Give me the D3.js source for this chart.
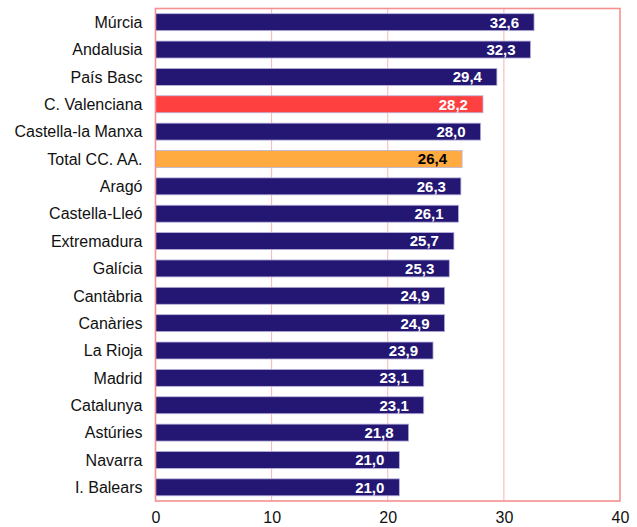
<!DOCTYPE html>
<html>
<head>
<meta charset="utf-8">
<script src="https://cdn.jsdelivr.net/npm/d3@7"></script>
<style>
  body { margin: 0; background: #fff; }
  text { font-family: Arial, "Liberation Sans", sans-serif; }
</style>
</head>
<body>
<div id="chart"></div>
<script>
const regions = ["Múrcia", "Andalusia", "País Basc", "C. Valenciana", "Castella-la Manxa",
    "Total CC. AA.", "Aragó", "Castella-Lleó", "Extremadura", "Galícia", "Cantàbria",
    "Canàries", "La Rioja", "Madrid", "Catalunya", "Astúries", "Navarra", "I. Balears"];
const values = [32.6, 32.3, 29.4, 28.2, 28.0, 26.4, 26.3, 26.1, 25.7, 25.3, 24.9,
    24.9, 23.9, 23.1, 23.1, 21.8, 21.0, 21.0];
const xTicks = [0, 10, 20, 30, 40];

const highlight = { "C. Valenciana": "#ff4040", "Total CC. AA.": "#ffab40" };

const margin = { top: 8.5, right: 17, bottom: 26, left: 155.5 };
const width = 637 - margin.left - margin.right;
const height = 527 - margin.top - margin.bottom;

const svg = d3.select("#chart")
    .append("svg")
    .attr("width", 637)
    .attr("height", 527)
    .append("g")
    .attr("transform", "translate(" + margin.left + "," + margin.top + ")");

const x = d3.scaleLinear().domain([0, 40]).range([0, width]);
const y = d3.scaleBand().domain(regions).range([0, height]).paddingInner(0.38).paddingOuter(0.19);

// gridlines
svg.selectAll(".grid")
    .data(xTicks.slice(1, -1))
    .enter().append("line")
    .attr("x1", d => x(d)).attr("x2", d => x(d))
    .attr("y1", 0).attr("y2", height)
    .attr("stroke", "#f9b3b3")
    .attr("stroke-width", 1);

const data = regions.map((r, i) => ({ region: r, value: values[i] }));

svg.selectAll(".bar")
    .data(data)
    .enter().append("rect")
    .attr("x", 0)
    .attr("y", d => y(d.region))
    .attr("width", d => x(d.value))
    .attr("height", y.bandwidth())
    .attr("fill", d => highlight[d.region] || "#241773")
    .attr("stroke", "#b9b3dd")
    .attr("stroke-width", 0.8);

svg.selectAll(".val")
    .data(data)
    .enter().append("text")
    .attr("x", d => x(d.value) - 15)
    .attr("y", d => y(d.region) + y.bandwidth() / 2)
    .attr("dy", "0.36em")
    .attr("text-anchor", "end")
    .attr("font-size", "15px")
    .attr("font-weight", "bold")
    .attr("fill", d => d.region === "Total CC. AA." ? "#000" : "#fff")
    .text(d => d3.format(".1f")(d.value).replace(".", ","));

// category labels
svg.selectAll(".cat")
    .data(regions)
    .enter().append("text")
    .attr("x", -13)
    .attr("y", d => y(d) + y.bandwidth() / 2)
    .attr("dy", "0.36em")
    .attr("text-anchor", "end")
    .attr("font-size", "16px")
    .attr("fill", "#111")
    .text(d => d);

// frame
svg.append("rect")
    .attr("x", 0).attr("y", 0)
    .attr("width", width).attr("height", height)
    .attr("fill", "none")
    .attr("stroke", "#f59090")
    .attr("stroke-width", 1.6);

const xAxis = svg.append("g")
    .attr("transform", "translate(0," + height + ")")
    .call(d3.axisBottom(x).tickValues(xTicks).tickSize(0).tickPadding(11));
xAxis.select(".domain").remove();
xAxis.selectAll("text")
    .attr("font-size", "16px")
    .attr("fill", "#111")
    .style("font-family", "Arial, 'Liberation Sans', sans-serif");
</script>
</body>
</html>
